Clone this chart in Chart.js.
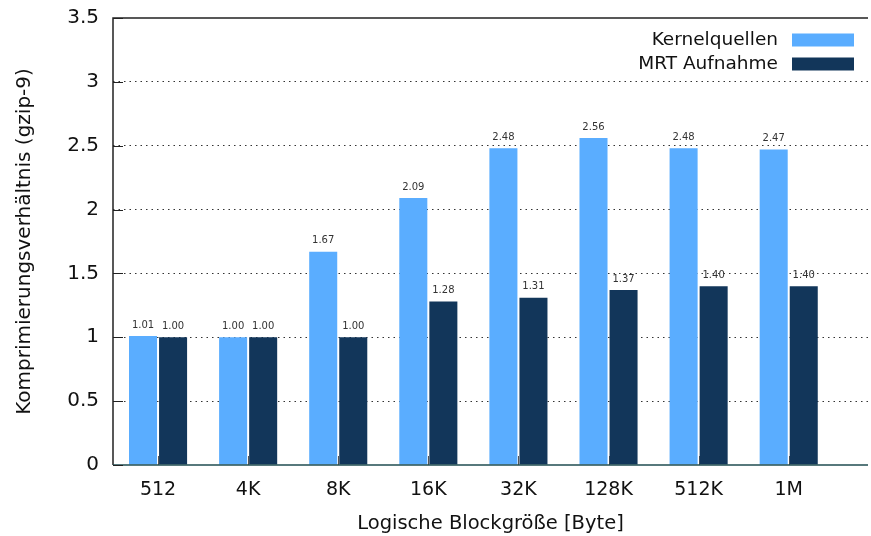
<!DOCTYPE html>
<html>
<head>
<meta charset="utf-8">
<script src="https://cdn.jsdelivr.net/npm/chart.js@4/dist/chart.umd.min.js"></script>
<style>
  html, body { margin: 0; padding: 0; background: #fff; }
  #wrap { width: 871px; height: 536px; }
</style>
</head>
<body>
<div id="wrap"><canvas id="c" width="871" height="536"></canvas></div>
<script>
// block sizes on the x axis
const blockSizes = ['512', '4K', '8K', '16K', '32K', '128K', '512K', '1M']
// compression ratios (gzip -9)
const kernelSources = [1.01, 1.00, 1.67, 2.09, 2.48, 2.56, 2.48, 2.47]
const mrtScan = [1.00, 1.00, 1.00, 1.28, 1.31, 1.37, 1.40, 1.40]
const yTicks = [0, 0.5, 1, 1.5, 2, 2.5, 3, 3.5]

const FONT = "'DejaVu Sans', sans-serif"
const LIGHT = '#5aadff'
const DARK = '#12365a'

const toPoints = vals => vals.map((v, i) => ({x: i, y: v}))

// frame: top + left border, baseline, short inward ticks
const frame = {
    id: 'frame',
    beforeDatasetsDraw(chart){
        const {ctx, chartArea: a, scales: {x}} = chart
        ctx.save()
        ctx.strokeStyle = '#555'
        ctx.lineWidth = 1
        blockSizes.forEach((_, i) => {
            const px = Math.round(x.getPixelForValue(i)) + 0.5
            ctx.beginPath()
            ctx.moveTo(px, a.bottom)
            ctx.lineTo(px, a.bottom - 9)
            ctx.stroke()
        })
        ctx.restore()
    },
    afterDatasetsDraw(chart){
        const {ctx, chartArea: a, scales: {y}} = chart
        ctx.save()
        ctx.strokeStyle = '#222'
        ctx.lineWidth = 1.5
        ctx.beginPath()
        ctx.moveTo(a.left, a.bottom)
        ctx.lineTo(a.left, a.top)
        ctx.lineTo(a.right, a.top)
        ctx.stroke()
        ctx.strokeStyle = '#1f4d50'
        ctx.beginPath()
        ctx.moveTo(a.left, a.bottom)
        ctx.lineTo(a.right, a.bottom)
        ctx.stroke()
        ctx.strokeStyle = '#222'
        ctx.lineWidth = 1
        yTicks.forEach(t => {
            const py = Math.round(y.getPixelForValue(t)) + 0.5
            ctx.beginPath()
            ctx.moveTo(a.left, py)
            ctx.lineTo(a.left + 10, py)
            ctx.stroke()
        })
        ctx.restore()
    }
}

// numbers above each bar
const valueLabels = {
    id: 'valueLabels',
    afterDatasetsDraw(chart){
        const {ctx} = chart
        ctx.save()
        ctx.font = '10px ' + FONT
        ctx.fillStyle = '#333'
        ctx.textAlign = 'center'
        ctx.textBaseline = 'middle'
        chart.data.datasets.forEach((ds, di) => {
            chart.getDatasetMeta(di).data.forEach((bar, i) => {
                ctx.fillText(ds.data[i].y.toFixed(2), bar.x, bar.y - 11)
            })
        })
        ctx.restore()
    }
}

// gnuplot-like key: text first, colour sample on the right
const keyBox = {
    id: 'keyBox',
    afterDraw(chart){
        const {ctx, chartArea: a} = chart
        ctx.save()
        ctx.font = '18.5px ' + FONT
        ctx.textAlign = 'right'
        ctx.textBaseline = 'middle'
        chart.data.datasets.forEach((ds, i) => {
            const cy = a.top + 22 + i * 24
            ctx.fillStyle = '#111'
            ctx.fillText(ds.label, a.right - 90, cy)
            ctx.fillStyle = ds.backgroundColor
            ctx.fillRect(a.right - 76, cy - 6.5, 62, 13)
        })
        ctx.restore()
    }
}

new Chart(document.getElementById('c'), {
    type: 'bar',
    data: {
        datasets: [
            {label: 'Kernelquellen', data: toPoints(kernelSources), backgroundColor: LIGHT},
            {label: 'MRT Aufnahme', data: toPoints(mrtScan), backgroundColor: DARK}
        ]
    },
    options: {
        responsive: false,
        animation: false,
        categoryPercentage: 0.667,
        barPercentage: 0.933,
        layout: {padding: {top: 18, right: 3, left: 0, bottom: 0}},
        plugins: {legend: {display: false}, tooltip: {enabled: false}},
        scales: {
            x: {
                type: 'linear',
                offset: false,
                min: -0.5,
                max: 7.88,
                afterBuildTicks: s => { s.ticks = blockSizes.map((_, i) => ({value: i})) },
                afterFit: s => { s.height = 71 },
                grid: {display: false, offset: false},
                border: {display: false},
                ticks: {
                    autoSkip: false,
                    maxRotation: 0,
                    padding: 6,
                    color: '#111',
                    font: {family: FONT, size: 19},
                    callback: v => blockSizes[v]
                },
                title: {
                    display: true,
                    text: 'Logische Blockgröße [Byte]',
                    color: '#111',
                    font: {family: FONT, size: 19.5},
                    padding: {top: 0, bottom: 0}
                }
            },
            y: {
                min: 0,
                max: 3.5,
                afterBuildTicks: s => { s.ticks = yTicks.map(v => ({value: v})) },
                afterFit: s => {
                    s.width = 113
                    s.paddingTop = 0
                    s.paddingBottom = 0
                },
                border: {display: false, dash: [1.5, 4]},
                grid: {
                    drawTicks: false,
                    color: c => (c.tick.value === 0 || c.tick.value === 3.5) ? 'rgba(0,0,0,0)' : '#333',
                    lineWidth: 1
                },
                ticks: {
                    padding: 14,
                    color: '#111',
                    font: {family: FONT, size: 20},
                    callback: v => String(v)
                },
                title: {
                    display: true,
                    text: 'Komprimierungsverhältnis (gzip-9)',
                    color: '#111',
                    font: {family: FONT, size: 20},
                    padding: {top: 13, bottom: 0}
                }
            }
        }
    },
    plugins: [frame, valueLabels, keyBox]
})
</script>
</body>
</html>
